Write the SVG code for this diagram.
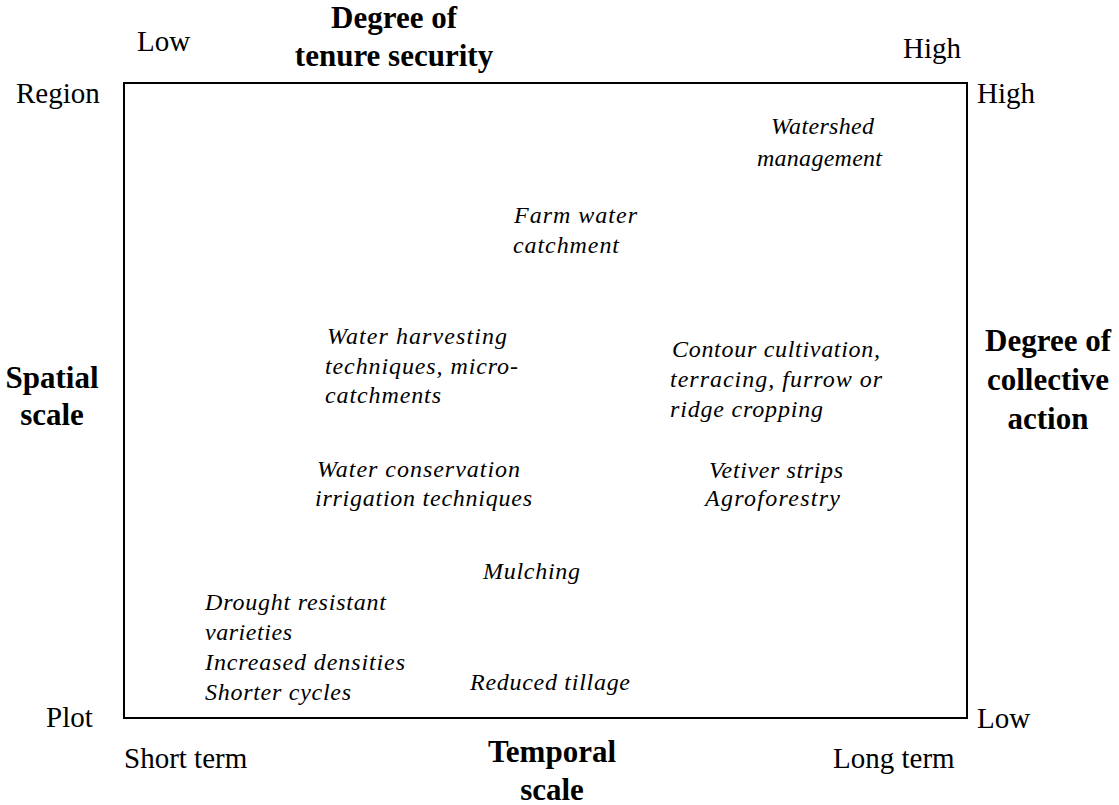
<svg xmlns="http://www.w3.org/2000/svg" width="1119" height="805" viewBox="0 0 1119 805">
<style>
.reg{font-family:"Liberation Serif",serif;font-size:29px;fill:#000}
.bold{font-family:"Liberation Serif",serif;font-size:31px;font-weight:bold;fill:#000;text-anchor:middle}
.it{font-family:"Liberation Serif",serif;font-size:24px;font-style:italic;fill:#000}
.frame{fill:none;stroke:#000;stroke-width:2}
</style>
<rect width="1119" height="805" fill="#fff"/>
<g id="frame"><rect class="frame" x="124" y="83" width="843" height="635"/></g>
<g id="connectors"></g>
<g id="axis-labels">
<text class="reg" x="137" y="51">Low</text>
<text class="reg" x="903" y="58">High</text>
<text class="reg" x="16" y="103">Region</text>
<text class="reg" x="977" y="103">High</text>
<text class="reg" x="46" y="727">Plot</text>
<text class="reg" x="977" y="728">Low</text>
<text class="reg" x="124" y="768">Short term</text>
<text class="reg" x="833" y="768">Long term</text>
</g>
<g id="title-tenure"><text class="bold" x="394" y="28">Degree of</text><text class="bold" x="394" y="66">tenure security</text></g>
<g id="title-temporal"><text class="bold" x="552" y="762">Temporal</text><text class="bold" x="552" y="800">scale</text></g>
<g id="title-spatial"><text class="bold" x="52" y="388">Spatial</text><text class="bold" x="52" y="425">scale</text></g>
<g id="title-collective"><text class="bold" x="1048" y="351">Degree of</text><text class="bold" x="1048" y="390">collective</text><text class="bold" x="1048" y="429">action</text></g>
<g id="watershed"><text class="it" x="771" y="134" textLength="103" lengthAdjust="spacing">Watershed</text><text class="it" x="757" y="166" textLength="125" lengthAdjust="spacing">management</text></g>
<g id="farm-water"><text class="it" x="514" y="223" textLength="123" lengthAdjust="spacing">Farm water</text><text class="it" x="513" y="253" textLength="106" lengthAdjust="spacing">catchment</text></g>
<g id="water-harvesting"><text class="it" x="327" y="344" textLength="180" lengthAdjust="spacing">Water harvesting</text><text class="it" x="325" y="374" textLength="193" lengthAdjust="spacing">techniques, micro-</text><text class="it" x="325" y="403" textLength="116" lengthAdjust="spacing">catchments</text></g>
<g id="contour"><text class="it" x="672" y="357" textLength="208" lengthAdjust="spacing">Contour cultivation,</text><text class="it" x="670" y="387" textLength="212" lengthAdjust="spacing">terracing, furrow or</text><text class="it" x="670" y="417" textLength="153" lengthAdjust="spacing">ridge cropping</text></g>
<g id="water-conservation"><text class="it" x="317" y="477" textLength="203" lengthAdjust="spacing">Water conservation</text><text class="it" x="315" y="506" textLength="217" lengthAdjust="spacing">irrigation techniques</text></g>
<g id="vetiver"><text class="it" x="709" y="478" textLength="134" lengthAdjust="spacing">Vetiver strips</text><text class="it" x="705" y="506" textLength="135" lengthAdjust="spacing">Agroforestry</text></g>
<g id="mulching"><text class="it" x="483" y="579" textLength="97" lengthAdjust="spacing">Mulching</text></g>
<g id="drought"><text class="it" x="205" y="610" textLength="181" lengthAdjust="spacing">Drought resistant</text><text class="it" x="205" y="640" textLength="87" lengthAdjust="spacing">varieties</text><text class="it" x="205" y="670" textLength="200" lengthAdjust="spacing">Increased densities</text><text class="it" x="205" y="700" textLength="146" lengthAdjust="spacing">Shorter cycles</text></g>
<g id="reduced-tillage"><text class="it" x="470" y="690" textLength="160" lengthAdjust="spacing">Reduced tillage</text></g>
</svg>
